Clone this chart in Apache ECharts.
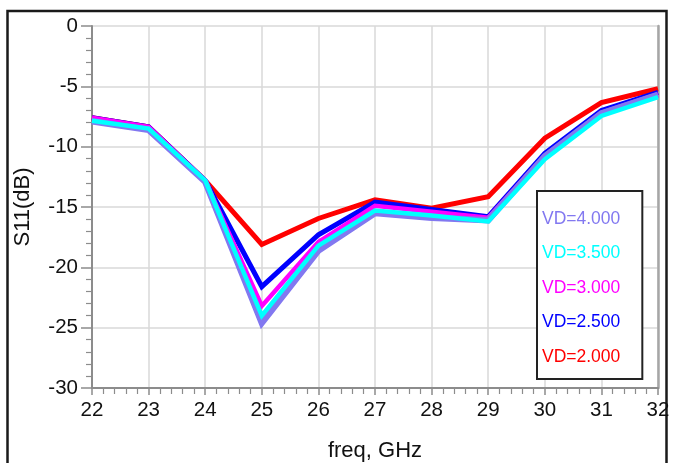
<!DOCTYPE html>
<html>
<head>
<meta charset="utf-8">
<script src="https://cdn.jsdelivr.net/npm/echarts@6/dist/echarts.min.js"></script>
<style>
html, body { margin: 0; padding: 0; background: #fff; }
#chart { width: 673px; height: 463px; }
</style>
</head>
<body>
<div id="chart"></div>
<script>
// Input return loss S11 versus frequency for several drain voltages
const freqGHz = [22, 23, 24, 25, 26, 27, 28, 29, 30, 31, 32];
const s11_vd4p0 = [-7.9, -8.6, -12.9, -24.6, -18.6, -15.5, -15.9, -16.1, -10.8, -7.25, -5.7];
const s11_vd3p5 = [-7.85, -8.5, -12.8, -24.0, -18.2, -15.3, -15.7, -16.2, -11.05, -7.45, -5.9];
const s11_vd3p0 = [-7.6, -8.35, -12.8, -23.2, -17.9, -14.9, -15.4, -15.9, -10.75, -7.2, -5.65];
const s11_vd2p5 = [-7.6, -8.35, -12.8, -21.6, -17.3, -14.6, -15.2, -15.8, -10.55, -7.0, -5.5];
const s11_vd2p0 = [-7.6, -8.35, -12.8, -18.1, -15.95, -14.4, -15.1, -14.15, -9.3, -6.35, -5.2];
const traceNames = ['VD=4.000', 'VD=3.500', 'VD=3.000', 'VD=2.500', 'VD=2.000'];
const traceValues = [s11_vd4p0, s11_vd3p5, s11_vd3p0, s11_vd2p5, s11_vd2p0];
const traceColors = ['#8278f0', '#00ffff', '#ff00ff', '#0000ff', '#ff0000'];
const traceWidths = [6.5, 4.5, 4.5, 5, 5];
// stacking order of the traces (higher is drawn on top)
const traceZ = [6, 7, 5, 4, 3];

const FONT = 'Liberation Sans, Arial, sans-serif';
const chart = echarts.init(document.getElementById('chart'), null, { renderer: 'canvas' });

const series = traceNames.map((name, i) => ({
  name: name,
  type: 'line',
  data: freqGHz.map((f, k) => [f, traceValues[i][k]]),
  symbol: 'none',
  color: traceColors[i],
  lineStyle: { color: traceColors[i], width: traceWidths[i], join: 'miter' },
  z: traceZ[i]
}));

chart.setOption({
  animation: false,
  backgroundColor: '#fff',
  graphic: [{
    type: 'rect',
    shape: { x: 7.5, y: 11, width: 659, height: 470 },
    style: { fill: 'none', stroke: '#1a1a1a', lineWidth: 2.5 },
    z: 0
  }],
  grid: { left: 92, right: 15, top: 26, bottom: 75, containLabel: false, outerBoundsMode: 'none' },
  legend: {
    orient: 'vertical',
    left: 537,
    top: 191,
    width: 106,
    icon: 'none',
    itemWidth: 0,
    itemHeight: 18,
    itemGap: 16.5,
    padding: [19, 22, 13, 0],
    backgroundColor: '#fff',
    borderColor: '#222',
    borderWidth: 2,
    selectedMode: false,
    data: traceNames.map((n, i) => ({ name: n, textStyle: { color: traceColors[i] } })),
    textStyle: { fontFamily: FONT, fontSize: 17.5 }
  },
  xAxis: {
    type: 'value',
    min: 22, max: 32, interval: 1,
    name: 'freq, GHz',
    nameLocation: 'middle',
    nameGap: 52,
    nameTextStyle: { fontFamily: FONT, fontSize: 22, color: '#111' },
    axisLine: { show: true, onZero: false, lineStyle: { color: '#8c8c8c', width: 2 } },
    axisTick: { show: true, length: 7, lineStyle: { color: '#8c8c8c', width: 1.5 } },
    minorTick: { show: true, splitNumber: 5, length: 6, lineStyle: { color: '#8c8c8c', width: 1.2 } },
    splitLine: { show: true, lineStyle: { color: '#d9d9d9', width: 1.5 } },
    axisLabel: { fontFamily: FONT, fontSize: 20.5, color: '#111', margin: 12 }
  },
  yAxis: [{
    type: 'value',
    min: -30, max: 0, interval: 5,
    name: 'S11(dB)',
    nameLocation: 'middle',
    nameGap: 58,
    nameRotate: 90,
    nameTextStyle: { fontFamily: FONT, fontSize: 22, color: '#111' },
    axisLine: { show: true, lineStyle: { color: '#8c8c8c', width: 2 } },
    axisTick: { show: true, length: 11, lineStyle: { color: '#8c8c8c', width: 1.5 } },
    minorTick: { show: true, splitNumber: 5, length: 6, lineStyle: { color: '#8c8c8c', width: 1.2 } },
    splitLine: { show: true, lineStyle: { color: '#d9d9d9', width: 1.5 } },
    axisLabel: { fontFamily: FONT, fontSize: 20.5, color: '#111', margin: 14 }
  }, {
    type: 'value',
    min: -30, max: 0, interval: 5,
    position: 'right',
    axisLine: { show: true, lineStyle: { color: '#a6a6a6', width: 2.5 } },
    axisTick: { show: false },
    axisLabel: { show: false },
    splitLine: { show: false }
  }],
  series: series
});
</script>
</body>
</html>
